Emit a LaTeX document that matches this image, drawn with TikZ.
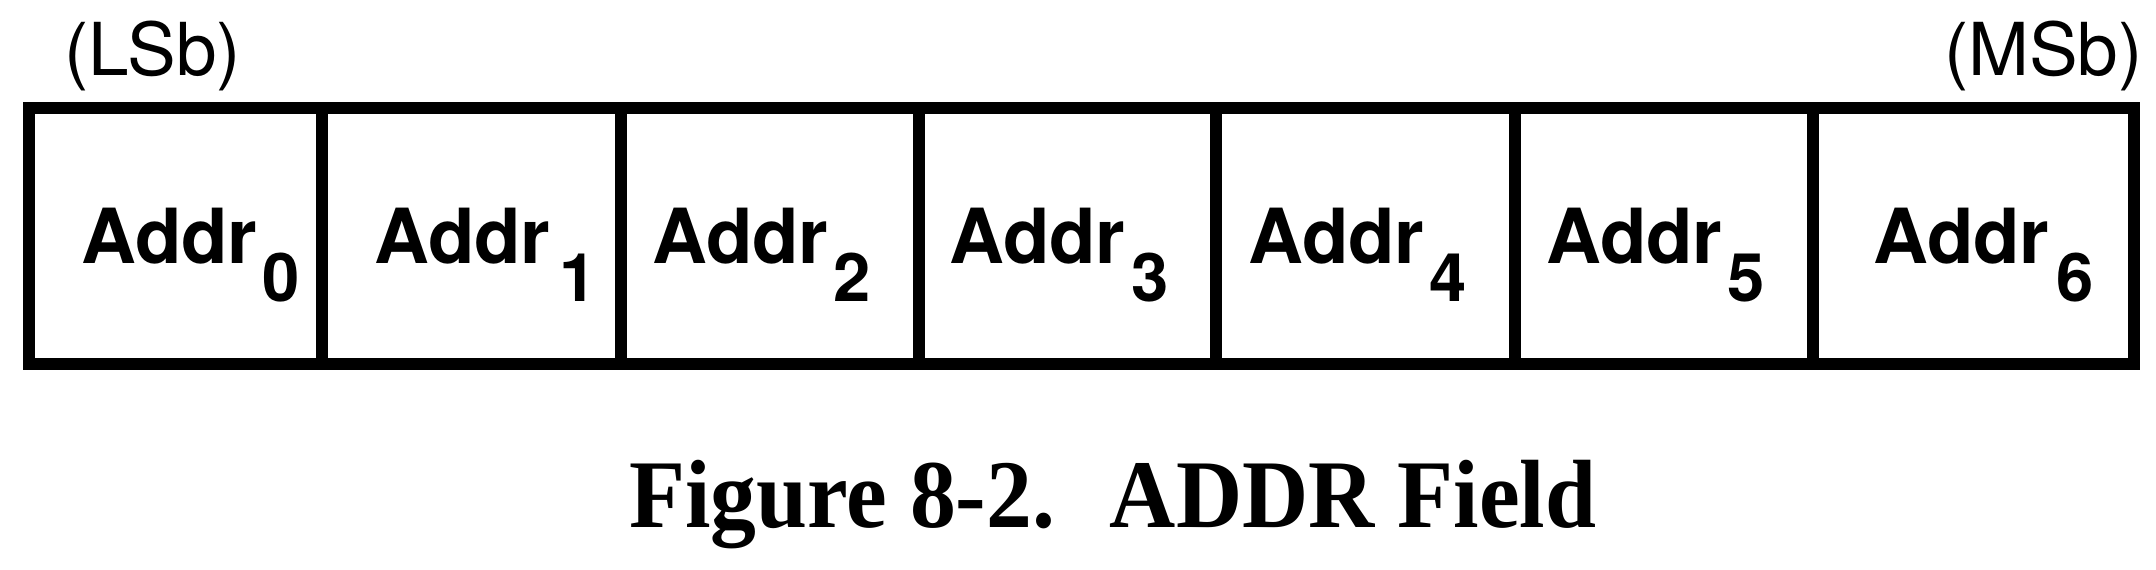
\documentclass[tikz,border=0pt]{standalone}
\usepackage{fontspec}
\setmainfont{Liberation Serif}
\setsansfont{TeX Gyre Heros}
\newfontfamily\capfont[FakeStretch=0.945]{Liberation Serif}
\begin{document}
\begin{tikzpicture}[x=1pt,y=-1pt,
  cell/.style={draw, line width=12pt, inner sep=0pt, minimum height=256pt},
  word/.style={font=\fontsize{76}{80}\selectfont\sffamily\bfseries, inner sep=0pt, anchor=base west},
  idx/.style={font=\fontsize{67}{70}\selectfont\sffamily\bfseries, inner sep=0pt, anchor=base},
  tag/.style={font=\fontsize{73}{76}\selectfont\sffamily, inner sep=0pt},
  capt/.style={font=\fontsize{97}{100}\selectfont\capfont\bfseries, inner sep=0pt, anchor=base west}]
\useasboundingbox (0,0) rectangle (2156,570);
\node[cell, minimum width=293pt] (c0) at (175.5,236) {};
\node[cell, minimum width=299pt] (c1) at (471.5,236) {};
\node[cell, minimum width=298pt] (c2) at (770,236) {};
\node[cell, minimum width=297pt] (c3) at (1067.5,236) {};
\node[cell, minimum width=299pt] (c4) at (1365.5,236) {};
\node[cell, minimum width=298pt] (c5) at (1664,236) {};
\node[cell, minimum width=321pt] (c6) at (1973.5,236) {};
\node[word] (w0) at (81,263) {Addr};
\node[word] (w1) at (374,263) {Addr};
\node[word] (w2) at (652,263) {Addr};
\node[word] (w3) at (949,263) {Addr};
\node[word] (w4) at (1248,263) {Addr};
\node[word] (w5) at (1546,263) {Addr};
\node[word] (w6) at (1873,263) {Addr};
\node[idx] (s0) at (281,301) {0};
\node[idx] (s1) at (578,301) {1};
\node[idx] (s2) at (852,301) {2};
\node[idx] (s3) at (1150,301) {3};
\node[idx] (s4) at (1448.5,301) {4};
\node[idx] (s5) at (1746.5,301) {5};
\node[idx] (s6) at (2075,301) {6};
\node[tag, anchor=base west] (lsb) at (64,75) {(LSb)};
\node[tag, anchor=base east] (msb) at (2143,75) {(MSb)};
\node[capt] (cap) at (629,527) {Figure 8-2.\hspace{0.25em} ADDR Field};
\end{tikzpicture}
\end{document}
